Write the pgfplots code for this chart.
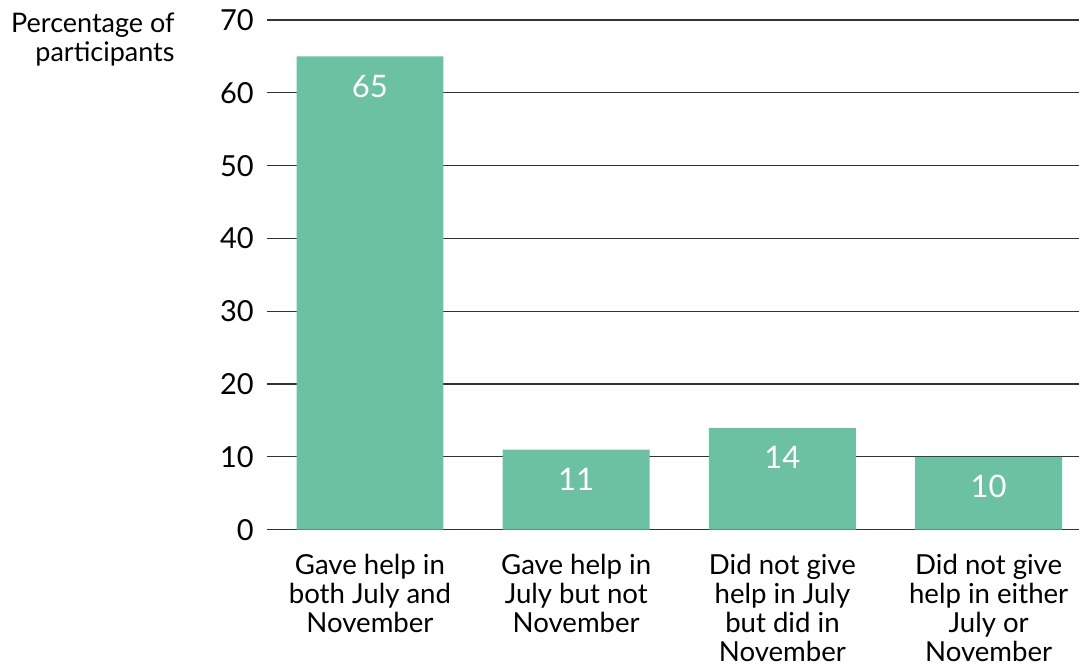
\documentclass[border=0pt]{standalone}
\usepackage{fontspec}
\setmainfont{Lato}
\usepackage{pgfplots}
\pgfplotsset{compat=1.18}
\definecolor{barc}{HTML}{6CC1A3}
\definecolor{gridc}{HTML}{333333}
\begin{document}
\begin{tikzpicture}
\begin{axis}[
  scale only axis,
  width=406.5pt, height=255pt,
  xmin=-0.5, xmax=3.44,
  ymin=0, ymax=70,
  ytick={0,10,...,70},
  xtick=data,
  xticklabels={Gave help in\\both July and\\November, Gave help in\\July but not\\November, Did not give\\help in July\\but did in\\November, Did not give\\help in either\\July or\\November},
  xticklabel style={align=center, font=\fontsize{13.8}{14.6}\selectfont, anchor=north, yshift=-8.5pt},
  yticklabel style={font=\fontsize{14.5}{16}\selectfont, anchor=east, xshift=-3pt},
  /pgf/number format/assume math mode=true,
  axis line style={draw=none},
  major tick length=0pt,
  ymajorgrids,
  grid style={gridc, line width=0.6pt},
  bar width=73.5pt,
  clip=false,
]
\addplot[ybar, fill=barc, draw=none,
  nodes near coords,
  every node near coord/.append style={anchor=center, yshift=-15pt, text=white, font=\fontsize{15.5}{17}\selectfont}]
  coordinates {(0,65) (1,11) (2,14) (3,10)};
\end{axis}
\node[align=right, anchor=north east, inner sep=0pt, font=\fontsize{13.5}{15}\selectfont] at (-46pt,259pt) {Percentage of\\participants};
\path[use as bounding box] (-133.5pt,-68pt) rectangle (406.5pt,265pt);
\end{tikzpicture}
\end{document}
